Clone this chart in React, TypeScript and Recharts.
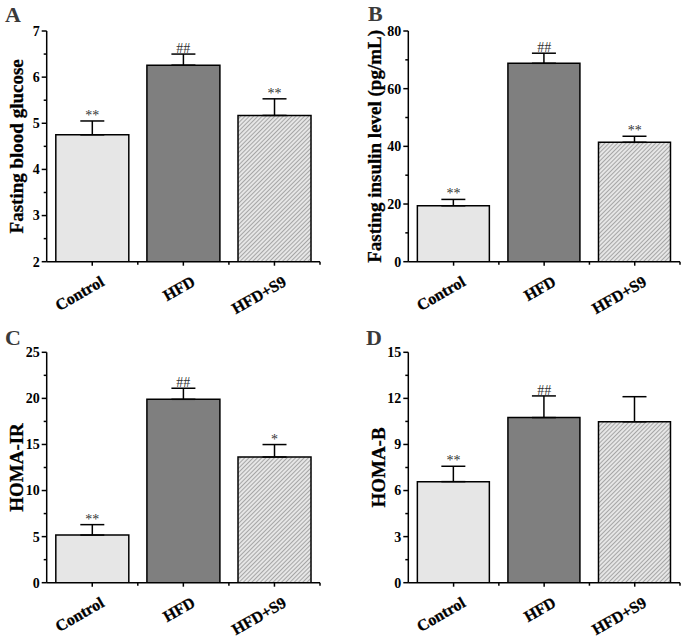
import React from "react";
import {
  Bar,
  Cell,
  ComposedChart,
  ErrorBar,
  LabelList,
  Line,
  XAxis,
  YAxis,
} from "recharts";

const groups = ["Control", "HFD", "HFD+S9"];

const glucoseMean = [4.75, 6.26, 5.17];
const glucoseErr = [0.3, 0.24, 0.36];
const glucoseSig = ["**", "##", "**"];
const glucoseMajor = [2, 3, 4, 5, 6, 7];
const glucoseMinor = [2.5, 3.5, 4.5, 5.5, 6.5];

const insulinMean = [19.4, 68.8, 41.4];
const insulinErr = [2.2, 3.5, 2.1];
const insulinSig = ["**", "##", "**"];
const insulinMajor = [0, 20, 40, 60, 80];
const insulinMinor = [10, 30, 50, 70];

const homaIrMean = [5.17, 19.9, 13.64];
const homaIrErr = [1.13, 1.2, 1.35];
const homaIrSig = ["**", "##", "*"];
const homaIrMajor = [0, 5, 10, 15, 20, 25];
const homaIrMinor = [2.5, 7.5, 12.5, 17.5, 22.5];

const homaBMean = [6.58, 10.75, 10.48];
const homaBErr = [1.0, 1.41, 1.63];
const homaBSig = ["**", "##", ""];
const homaBMajor = [0, 3, 6, 9, 12, 15];
const homaBMinor = [1.5, 4.5, 7.5, 10.5, 13.5];

const FONT = "'Liberation Serif', 'Times New Roman', serif";
const fills = ["#e6e6e6", "#7f7f7f", "url(#hatch)"];
const X_H = 30;

function build(mean: number[], err: number[], sig: string[]) {
  return groups.map((g, i) => ({
    name: g,
    value: mean[i],
    range: [0, err[i]],
    top: mean[i] + err[i],
    sig: sig[i],
  }));
}

function YTick(props: any) {
  const { x, y, payload, major } = props;
  const isMajor = major.includes(payload.value);
  return (
    <g>
      <line x1={x} x2={x - (isMajor ? 5 : 3)} y1={y} y2={y} stroke="#000" strokeWidth={1.5} />
      {isMajor && (
        <text
          x={x - 7}
          y={y}
          dy="0.35em"
          textAnchor="end"
          fontSize={14}
          fontWeight="bold"
          fontFamily={FONT}
          fill="#000"
        >
          {payload.value}
        </text>
      )}
    </g>
  );
}

function XTick(props: any) {
  const { x, y, payload, band } = props;
  const tx = x + 13;
  const ty = y + 23;
  return (
    <g>
      <line x1={x} x2={x} y1={y} y2={y + 4} stroke="#000" strokeWidth={1.5} />
      <line x1={x + band / 2} x2={x + band / 2} y1={y} y2={y + 3} stroke="#000" strokeWidth={1.5} />
      <text
        x={tx}
        y={ty}
        textAnchor="end"
        transform={`rotate(-30 ${tx} ${ty})`}
        fontSize={16}
        fontWeight="bold"
        fontFamily={FONT}
        fill="#000"
        stroke="#000"
        strokeWidth={0.3}
      >
        {payload.value}
      </text>
    </g>
  );
}

function Panel({
  left,
  top,
  width,
  height,
  margin,
  yWidth,
  labelX,
  label,
  letter,
  letterX,
  letterY,
  data,
  major,
  minor,
}: any) {
  const band = (width - margin.left - margin.right - yWidth) / groups.length;
  const ticks = [...major, ...minor].sort((a, b) => a - b);
  const domain = [major[0], major[major.length - 1]];
  return (
    <div style={{ position: "absolute", left, top, width, height }}>
      <ComposedChart
        width={width}
        height={height}
        data={data}
        margin={{ ...margin, bottom: margin.bottom - X_H }}
        barCategoryGap="10%"
      >
        <defs>
          <pattern id="hatch" patternUnits="userSpaceOnUse" width={3} height={3} patternTransform="rotate(45)">
            <rect width={3} height={3} fill="#e6e6e6" />
            <line x1={0} y1={0} x2={0} y2={3} stroke="#707070" strokeWidth={1.1} />
          </pattern>
        </defs>
        <XAxis
          dataKey="name"
          height={X_H}
          axisLine={{ stroke: "#000", strokeWidth: 1.5 }}
          tickLine={false}
          tickSize={0}
          tickMargin={0}
          interval={0}
          tick={<XTick band={band} />}
        />
        <YAxis
          width={yWidth}
          domain={domain}
          ticks={ticks}
          interval={0}
          allowDataOverflow
          axisLine={{ stroke: "#000", strokeWidth: 1.5 }}
          tickLine={false}
          tickSize={0}
          tickMargin={0}
          tick={<YTick major={major} />}
          label={{
            value: label,
            content: (p: any) => {
              const vb = p.viewBox;
              const cx = labelX;
              const cy = vb.y + vb.height / 2;
              return (
                <text
                  x={cx}
                  y={cy}
                  textAnchor="middle"
                  transform={`rotate(-90 ${cx} ${cy})`}
                  fontSize={19}
                  fontWeight="bold"
                  fontFamily={FONT}
                  fill="#000"
                  stroke="#000"
                  strokeWidth={0.3}
                >
                  {label}
                </text>
              );
            },
          }}
        />
        <Bar dataKey="value" stroke="#000" strokeWidth={1.5} isAnimationActive={false}>
          {data.map((d: any, i: number) => (
            <Cell key={d.name} fill={fills[i]} />
          ))}
          <ErrorBar dataKey="range" width={12} stroke="#000" strokeWidth={1.5} />
        </Bar>
        <Line
          dataKey="top"
          stroke="none"
          dot={false}
          activeDot={false}
          legendType="none"
          isAnimationActive={false}
        >
          <LabelList
            dataKey="sig"
            position="top"
            offset={1}
            style={{ fontSize: 14, fontFamily: FONT, fill: "#333" }}
          />
        </Line>
      </ComposedChart>
      <svg style={{ position: "absolute", left: 0, top: 0 }} width={width} height={40}>
        <text x={letterX} y={letterY} fontSize={22} fontWeight="bold" fontFamily={FONT} fill="#3a3a3a">
          {letter}
        </text>
      </svg>
    </div>
  );
}

export default function App() {
  return (
    <div style={{ position: "absolute", left: 0, top: 0, width: 685, height: 640, background: "#fff" }}>
      <Panel
        left={0}
        top={0}
        width={340}
        height={320}
        margin={{ top: 31, right: 20, bottom: 58.3, left: 0 }}
        yWidth={46.7}
        labelX={23}
        label="Fasting blood glucose"
        letter="A"
        letterX={5}
        letterY={21.7}
        data={build(glucoseMean, glucoseErr, glucoseSig)}
        major={glucoseMajor}
        minor={glucoseMinor}
      />
      <Panel
        left={340}
        top={0}
        width={345}
        height={320}
        margin={{ top: 31, right: 5, bottom: 58.3, left: 0 }}
        yWidth={68.3}
        labelX={41}
        label="Fasting insulin level (pg/mL)"
        letter="B"
        letterX={28}
        letterY={21}
        data={build(insulinMean, insulinErr, insulinSig)}
        major={insulinMajor}
        minor={insulinMinor}
      />
      <Panel
        left={0}
        top={320}
        width={340}
        height={320}
        margin={{ top: 32.3, right: 20, bottom: 57.3, left: 0 }}
        yWidth={46.7}
        labelX={23.3}
        label="HOMA-IR"
        letter="C"
        letterX={5}
        letterY={25}
        data={build(homaIrMean, homaIrErr, homaIrSig)}
        major={homaIrMajor}
        minor={homaIrMinor}
      />
      <Panel
        left={340}
        top={320}
        width={345}
        height={320}
        margin={{ top: 32.3, right: 5, bottom: 57.3, left: 0 }}
        yWidth={68.3}
        labelX={45}
        label="HOMA-B"
        letter="D"
        letterX={26}
        letterY={25}
        data={build(homaBMean, homaBErr, homaBSig)}
        major={homaBMajor}
        minor={homaBMinor}
      />
    </div>
  );
}
